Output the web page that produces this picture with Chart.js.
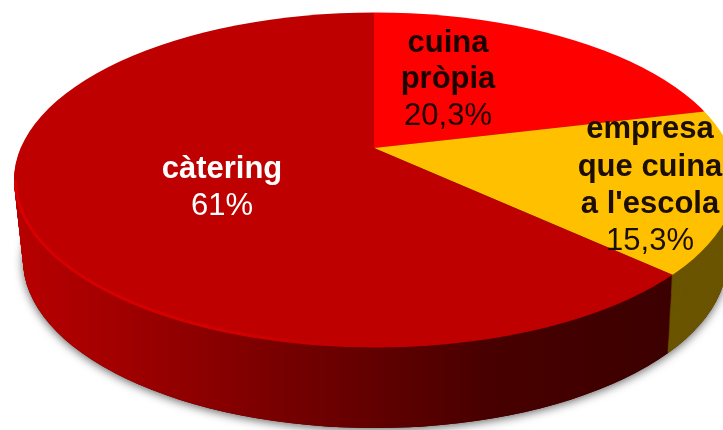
<!DOCTYPE html>
<html>
<head>
    <meta charset="utf-8">
    <script src="https://cdn.jsdelivr.net/npm/chart.js"></script>
    <style>
        html, body { margin: 0; padding: 0; background: #fff; overflow: hidden; }
        canvas { display: block; }
    </style>
</head>

<body>
    <canvas id="menjadorChart" width="723" height="430"></canvas>

<script>
    const categories = ['cuina pròpia', 'empresa que cuina a l\'escola', 'càtering']
    const values = [20.3, 15.3, 61]
    const labelLines = [['cuina', 'pròpia'], ['empresa', 'que cuina', 'a l\'escola'], ['càtering']]
    const topColors = ['#ff0000', '#ffc000', '#bf0000']

    // projection of the flat pie onto the tilted disc
    const apex = { x: 374, y: 148 }
    const rim = { x: 375, y: 180, rx: 361, ry: 167.5 }
    const base = { x: 375, y: 260, rx: 352, ry: 168 }
    const scaleX = 2.4
    const scaleUp = scaleX / 2.325
    const scaleDown = scaleX / 2.17

    // where each slice's text block goes: centre x, then one baseline per line
    const labelPos = [
        { x: 448, ys: [52, 88, 125], color: '#1c0000' },
        { x: 650, ys: [138, 176, 213, 250], color: '#1c0e00' },
        { x: 222, ys: [178, 215], color: '#ffffff' }
    ]

    function ellipsePath(ctx, e) {
        ctx.beginPath()
        ctx.ellipse(e.x, e.y, e.rx, e.ry, 0, 0, Math.PI * 2)
    }

    function place(ctx, el, x, y, sx, sy) {
        ctx.translate(x, y)
        ctx.scale(sx, sy)
        ctx.translate(-el.x, -el.y)
    }

    function sideFill(ctx, el, index, x, sx) {
        if (index === 1) return '#6b5500'
        if (index === 0) return '#800000'
        const toChart = px => el.x + (px - x) / sx
        const g = ctx.createLinearGradient(toChart(14), 0, toChart(672), 0)
        g.addColorStop(0, '#b80000')
        g.addColorStop(0.15, '#a30000')
        g.addColorStop(0.45, '#700000')
        g.addColorStop(0.72, '#480000')
        g.addColorStop(1, '#3c0000')
        return g
    }

    const disc3d = {
        id: 'disc3d',
        beforeDatasetsDraw(chart) {
            const ctx = chart.ctx
            const arcs = chart.getDatasetMeta(0).data

            // soft shadow under the disc
            ctx.save()
            ctx.shadowColor = 'rgba(0,0,0,0.6)'
            ctx.shadowBlur = 10
            ctx.shadowOffsetY = 2
            ctx.fillStyle = '#400000'
            ellipsePath(ctx, base)
            ctx.fill()
            ctx.restore()

            // side wall: stack of layers from the bottom up
            const depth = base.y - rim.y
            for (let d = depth; d > 0; d--) {
                const t = d / depth
                const layer = {
                    x: rim.x,
                    y: rim.y + d,
                    rx: rim.rx + (base.rx - rim.rx) * t,
                    ry: rim.ry + (base.ry - rim.ry) * t
                }
                const k = layer.rx / rim.rx
                ctx.save()
                ellipsePath(ctx, layer)
                ctx.clip()
                arcs.forEach((el, i) => {
                    const shared = el.options
                    ctx.save()
                    place(ctx, el, apex.x, apex.y + d, scaleX * k, scaleDown * k)
                    el.options = Object.create(shared)
                    el.options.backgroundColor = sideFill(ctx, el, i, apex.x, scaleX * k)
                    el.draw(ctx)
                    el.options = shared
                    ctx.restore()
                })
                ctx.restore()
            }

            // top face, upper and lower halves are scaled apart
            const halves = [
                { y: 0, h: apex.y, sy: scaleUp },
                { y: apex.y, h: 430 - apex.y, sy: scaleDown }
            ]
            halves.forEach(half => {
                ctx.save()
                ellipsePath(ctx, rim)
                ctx.clip()
                ctx.beginPath()
                ctx.rect(0, half.y, 723, half.h)
                ctx.clip()
                arcs.forEach(el => {
                    ctx.save()
                    place(ctx, el, apex.x, apex.y, scaleX, half.sy)
                    el.draw(ctx)
                    ctx.restore()
                })
                ctx.restore()
            })

            // light bevel along the front left edge
            const bevel = ctx.createLinearGradient(14, 0, 340, 0)
            bevel.addColorStop(0, 'rgba(222,0,0,0.8)')
            bevel.addColorStop(0.7, 'rgba(222,0,0,0.6)')
            bevel.addColorStop(1, 'rgba(222,0,0,0)')
            ctx.save()
            ctx.strokeStyle = bevel
            ctx.lineWidth = 3
            ctx.beginPath()
            ctx.ellipse(rim.x, rim.y, rim.rx - 1.5, rim.ry - 1.5, 0, Math.PI * 0.5, Math.PI)
            ctx.stroke()
            ctx.restore()

            return false
        },
        afterDraw(chart) {
            const ctx = chart.ctx
            ctx.save()
            ctx.textAlign = 'center'
            ctx.textBaseline = 'alphabetic'
            categories.forEach((cat, i) => {
                const pos = labelPos[i]
                ctx.fillStyle = pos.color
                ctx.font = 'bold 31px "Liberation Sans", Arial, sans-serif'
                labelLines[i].forEach((line, n) => ctx.fillText(line, pos.x, pos.ys[n]))
                ctx.font = '31px "Liberation Sans", Arial, sans-serif'
                const valueText = String(values[i]).replace('.', ',') + '%'
                ctx.fillText(valueText, pos.x, pos.ys[labelLines[i].length])
            })
            ctx.restore()
        }
    }

    new Chart(document.getElementById('menjadorChart').getContext('2d'), {
        type: 'pie',
        data: {
            labels: categories,
            datasets: [{
                data: values,
                backgroundColor: topColors,
                borderWidth: 0
            }]
        },
        options: {
            responsive: false,
            animation: false,
            layout: { padding: 0 },
            plugins: {
                legend: { display: false },
                tooltip: { enabled: false }
            }
        },
        plugins: [disc3d]
    })
</script>
</body>
</html>
